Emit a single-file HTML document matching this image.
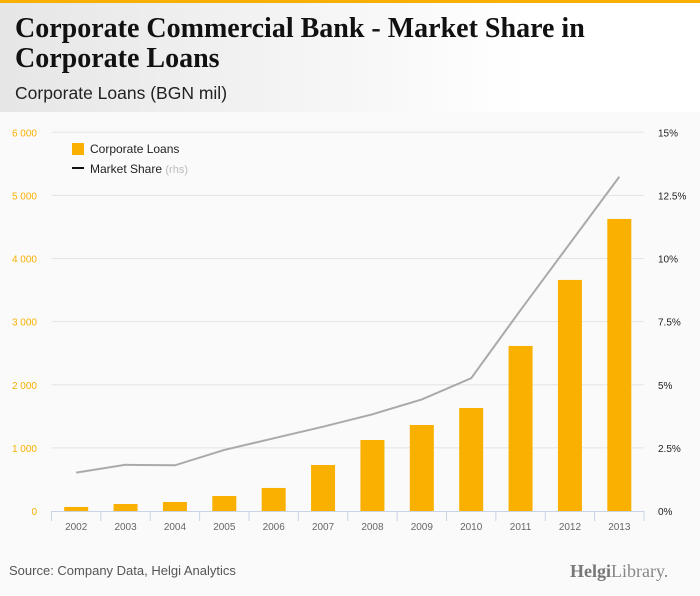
<!DOCTYPE html>
<html><head><meta charset="utf-8"><style>
body{margin:0;width:700px;height:596px;background:#fafafa;font-family:"Liberation Sans",sans-serif;overflow:hidden;position:relative}
#hdr{position:absolute;left:0;top:0;width:700px;height:112px;background:linear-gradient(90deg,#e6e6e6,#fff 75%);border-top:3px solid #f9b000;box-sizing:border-box}
#title{position:absolute;left:15px;top:11px;font-family:"Liberation Serif",serif;font-weight:bold;font-size:28px;line-height:30px;color:#111;letter-spacing:0px}
#sub{position:absolute;left:15px;top:80px;font-size:17.5px;color:#222}
#src{position:absolute;left:9px;top:563px;font-size:13px;color:#555}
#logo{position:absolute;left:570px;top:561px;font-family:"Liberation Serif",serif;font-size:18px;color:#888}
</style></head><body>
<div id="hdr">
<div id="title">Corporate Commercial Bank - Market Share in<br>Corporate Loans</div>
<div id="sub">Corporate Loans (BGN mil)</div>
</div>
<svg id="chart" width="700" height="596" style="position:absolute;left:0;top:0"></svg>
<div id="src">Source: Company Data, Helgi Analytics</div>
<div id="logo"><span style="color:#777;font-weight:bold">Helgi</span>Library.</div>
<script>
const categories=["2002","2003","2004","2005","2006","2007","2008","2009","2010","2011","2012","2013"];
const loans=[64,111,143,238,365,729,1125,1363,1632,2615,3661,4627];
const share=[1.52,1.83,1.81,2.42,2.88,3.34,3.83,4.42,5.26,7.96,10.6,13.24];
const leftTicks=[0,1000,2000,3000,4000,5000,6000];
const leftLabels=["0","1 000","2 000","3 000","4 000","5 000","6 000"];
const rightTicks=[0,2.5,5,7.5,10,12.5,15];
const rightLabels=["0%","2.5%","5%","7.5%","10%","12.5%","15%"];
const NS="http://www.w3.org/2000/svg";
const svg=document.getElementById('chart');
const X0=51.5,X1=644,Y0=511,Y1=132.3;
const step=(X1-X0)/categories.length;
const xc=i=>X0+step*(i+0.5);
const yL=v=>Y0-(v/6000)*(Y0-Y1);
const yR=v=>Y0-(v/15)*(Y0-Y1);
function mk(t,a,txt){const e=document.createElementNS(NS,t);for(const k in a)e.setAttribute(k,a[k]);if(txt!==undefined)e.textContent=txt;svg.appendChild(e);return e;}
leftTicks.forEach((v,i)=>{
 if(v>0){const g=mk('line',{x1:X0,x2:X1,y1:yL(v),y2:yL(v),stroke:'#e4e4e4','stroke-width':1});
 
 }
 const t=mk('text',{x:37,y:yL(v)+4,'text-anchor':'end','font-size':10,fill:'#f9b000'},leftLabels[i]);
 
 
});
rightTicks.forEach((v,i)=>{
 const t=mk('text',{x:658,y:yR(v)+4,'font-size':10,fill:'#222'},rightLabels[i]);
 
 
});
const ax=mk('line',{x1:X0,x2:X1,y1:Y0+0.5,y2:Y0+0.5,stroke:'#c8d3e6'});


for(let i=0;i<=categories.length;i++){
 const tk=mk('line',{x1:X0+step*i,x2:X0+step*i,y1:Y0,y2:Y0+10,stroke:'#c8d3e6'});
 
 
}
categories.forEach((c,i)=>{
 const b=mk('rect',{x:xc(i)-12,y:yL(loans[i]),width:24,height:Y0-yL(loans[i]),fill:'#f9b000'});
 
 
 const t=mk('text',{x:xc(i),y:530,'text-anchor':'middle','font-size':10,fill:'#666'},c);
 
 
});
const ln=mk('polyline',{points:share.map((v,i)=>xc(i)+','+yR(v)).join(' '),fill:'none',stroke:'#aaa','stroke-width':2});


const l1=mk('rect',{x:72,y:143,width:12,height:12,fill:'#f9b000'});


const l1t=mk('text',{x:90,y:153,'font-size':12,fill:'#222'},'Corporate Loans');


const l2=mk('line',{x1:72,x2:84,y1:168,y2:168,stroke:'#111','stroke-width':2});


const l2t=mk('text',{x:90,y:173,'font-size':12,fill:'#222'},'Market Share ');


const ts=document.createElementNS(NS,'tspan');ts.setAttribute('fill','#bbb');ts.setAttribute('font-size','11');ts.textContent='(rhs)';l2t.appendChild(ts);
</script>
</body></html>
